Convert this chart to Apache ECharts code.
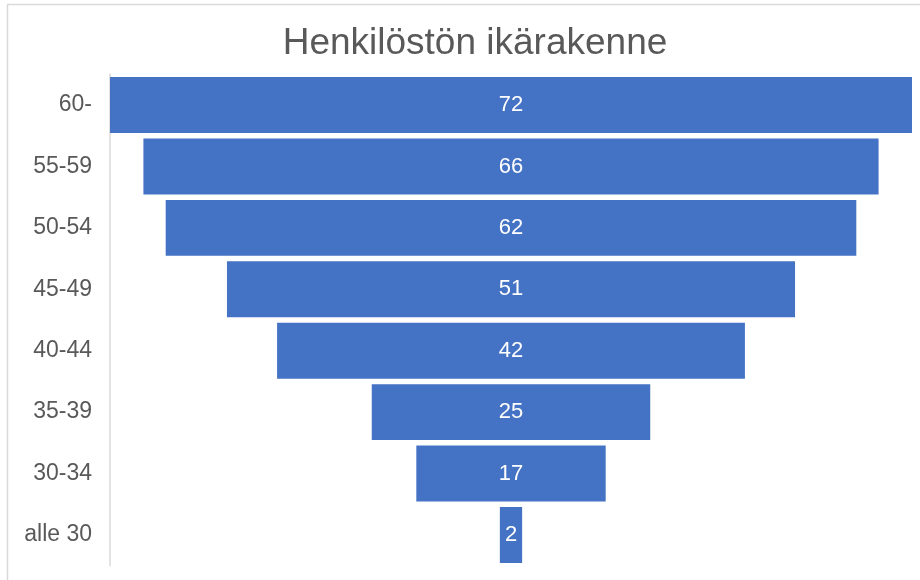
<!DOCTYPE html>
<html>
<head>
<meta charset="utf-8">
<script src="https://cdn.jsdelivr.net/npm/echarts@6/dist/echarts.min.js"></script>
<style>html,body{margin:0;padding:0;background:#fff;}#c{width:920px;height:580px;}</style>
</head>
<body>
<div id="c"></div>
<script>
const titleText = 'Henkilöstön ikärakenne';
const categories = ['60-', '55-59', '50-54', '45-49', '40-44', '35-39', '30-34', 'alle 30'];
const values = [72, 66, 62, 51, 42, 25, 17, 2];

const maxVal = Math.max.apply(null, values);
const offsets = values.map(v => (maxVal - v) / 2);
const FONT = '"Liberation Sans", Arial, sans-serif';

const chart = echarts.init(document.getElementById('c'), null, {renderer: 'canvas'});
chart.setOption({
  animation: false,
  backgroundColor: '#ffffff',
  graphic: [{
    type: 'rect', silent: true,
    shape: {x: 7.5, y: 4.5, width: 1000, height: 1000},
    style: {fill: 'none', stroke: '#d9d9d9', lineWidth: 1.5}
  }],
  title: {
    text: titleText, left: 470, top: 20, textAlign: 'center',
    textStyle: {fontFamily: FONT, fontSize: 37, fontWeight: 'normal', color: '#595959'}
  },
  grid: {left: 110, right: 8, top: 74.3, bottom: 14.3, containLabel: false},
  xAxis: {
    type: 'value', min: 0, max: maxVal, show: false
  },
  yAxis: {
    type: 'category', data: categories, inverse: true,
    axisLine: {show: true, lineStyle: {color: '#d9d9d9', width: 1.5}},
    axisTick: {show: false},
    axisLabel: {fontFamily: FONT, fontSize: 23, color: '#595959', margin: 18}
  },
  series: [{
    type: 'bar', stack: 'f', data: offsets, silent: true,
    itemStyle: {color: 'transparent'}, barCategoryGap: '9%'
  }, {
    type: 'bar', stack: 'f', data: values, barCategoryGap: '9%',
    itemStyle: {color: '#4472C4'},
    label: {show: true, position: 'inside', color: '#ffffff', fontFamily: FONT, fontSize: 22}
  }]
});
</script>
</body>
</html>
